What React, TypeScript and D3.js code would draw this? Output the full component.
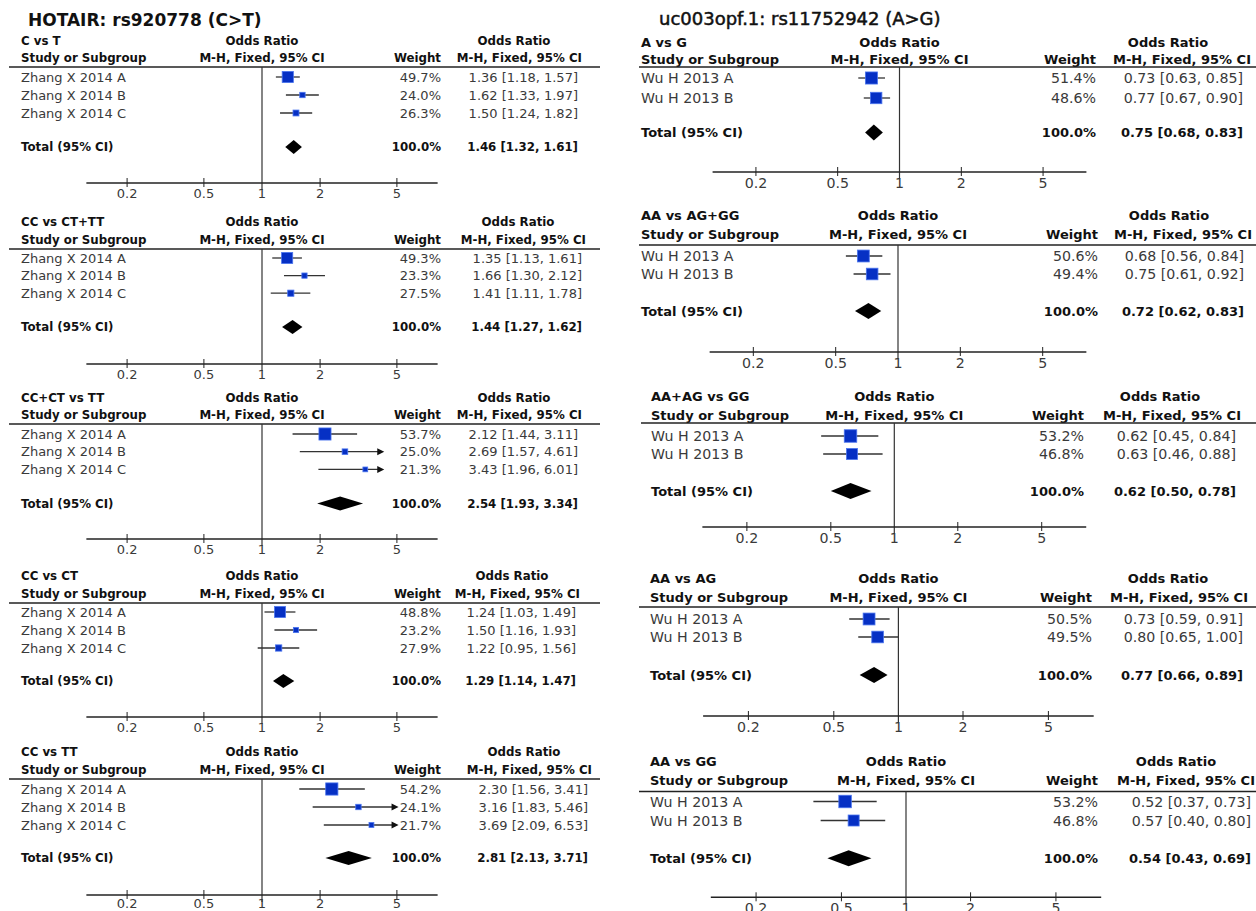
import React from "react";
import * as d3 from "d3";

// ---------- DATA ----------
const hotairTitle = "HOTAIR: rs920778 (C>T)";
const ucTitle = "uc003opf.1: rs11752942 (A>G)";

const hotairComparisons = ["C vs T", "CC vs CT+TT", "CC+CT vs TT", "CC vs CT", "CC vs TT"];
const hotairStudies = ["Zhang X 2014 A", "Zhang X 2014 B", "Zhang X 2014 C"];
const hotairWeights = [
  [49.7, 24.0, 26.3],
  [49.3, 23.3, 27.5],
  [53.7, 25.0, 21.3],
  [48.8, 23.2, 27.9],
  [54.2, 24.1, 21.7],
];
const hotairOR = [
  [1.36, 1.62, 1.5],
  [1.35, 1.66, 1.41],
  [2.12, 2.69, 3.43],
  [1.24, 1.5, 1.22],
  [2.3, 3.16, 3.69],
];
const hotairLower = [
  [1.18, 1.33, 1.24],
  [1.13, 1.3, 1.11],
  [1.44, 1.57, 1.96],
  [1.03, 1.16, 0.95],
  [1.56, 1.83, 2.09],
];
const hotairUpper = [
  [1.57, 1.97, 1.82],
  [1.61, 2.12, 1.78],
  [3.11, 4.61, 6.01],
  [1.49, 1.93, 1.56],
  [3.41, 5.46, 6.53],
];
// [OR, lower, upper]
const hotairTotal = [
  [1.46, 1.32, 1.61],
  [1.44, 1.27, 1.62],
  [2.54, 1.93, 3.34],
  [1.29, 1.14, 1.47],
  [2.81, 2.13, 3.71],
];

const ucComparisons = ["A vs G", "AA vs AG+GG", "AA+AG vs GG", "AA vs AG", "AA vs GG"];
const ucStudies = ["Wu H 2013 A", "Wu H 2013 B"];
const ucWeights = [
  [51.4, 48.6],
  [50.6, 49.4],
  [53.2, 46.8],
  [50.5, 49.5],
  [53.2, 46.8],
];
const ucOR = [
  [0.73, 0.77],
  [0.68, 0.75],
  [0.62, 0.63],
  [0.73, 0.8],
  [0.52, 0.57],
];
const ucLower = [
  [0.63, 0.67],
  [0.56, 0.61],
  [0.45, 0.46],
  [0.59, 0.65],
  [0.37, 0.4],
];
const ucUpper = [
  [0.85, 0.9],
  [0.84, 0.92],
  [0.84, 0.88],
  [0.91, 1.0],
  [0.73, 0.8],
];
const ucTotal = [
  [0.75, 0.68, 0.83],
  [0.72, 0.62, 0.83],
  [0.62, 0.5, 0.78],
  [0.77, 0.66, 0.89],
  [0.54, 0.43, 0.69],
];

const axisTicks = [0.2, 0.5, 1, 2, 5];
const axisTickLabels = ["0.2", "0.5", "1", "2", "5"];
const totalLabel = "Total (95% CI)";
const totalWeight = "100.0%";

// ---------- LAYOUT ----------
type Layout = {
  line0: number; line1: number; label: number; center: number; dec: number;
  weight: number; ci: number; ciHead: number; orHead: number; clip: number;
  y: number[]; // h1, h2, hline, row0, step, total, axis, tickLabelOffset
  fb: number; fr: number; dia: number; boxK: number;
};

const leftY = [
  [41, 58, 67, 77, 18, 147, 183, 10.5],
  [222, 240, 249, 258, 17.6, 327, 364, 10.5],
  [398, 415, 424, 434, 17.7, 503.5, 539, 10.5],
  [576, 594, 603, 612, 18, 681, 717, 10.5],
  [752, 770, 779, 789, 18, 858, 895, 8.5],
];
const leftCi = [578, 582, 578, 576, 588];
const leftClip = [5.1, 5.1, 4.3, 5.1, 5.1];

const leftLayouts: Layout[] = leftY.map((y, i) => ({
  line0: 9, line1: 600, label: 21, center: 262, dec: 193, weight: 441,
  ci: leftCi[i], ciHead: leftCi[i] + 4, orHead: leftCi[i] - 64, clip: leftClip[i],
  y, fb: 11.8, fr: 13, dia: 14, boxK: 0.225,
}));

const rightY = [
  [42, 59, 67, 78, 20, 132.5, 172, 11],
  [215, 234, 245, 256, 18, 311, 352, 11],
  [396, 415, 423, 436, 18, 491, 527, 11],
  [578, 597, 607, 619, 18, 675, 716, 11],
  [761.5, 780.5, 791.5, 801.5, 19, 858.3, 897.3, 11],
];
const rightX = [
  { line0: 639, label: 641, center: 899.5, dec: 205.4, weight: 1096, ci: 1243, ciHead: 1251, orHead: 1168 },
  { line0: 639, label: 641, center: 898, dec: 207, weight: 1098, ci: 1244, ciHead: 1252, orHead: 1169 },
  { line0: 641, label: 651, center: 894.3, dec: 210.9, weight: 1084, ci: 1236, ciHead: 1241, orHead: 1160 },
  { line0: 639, label: 650, center: 898.4, dec: 214.6, weight: 1092, ci: 1243, ciHead: 1248, orHead: 1168 },
  { line0: 639, label: 650, center: 906, dec: 214.5, weight: 1098, ci: 1251, ciHead: 1255, orHead: 1176 },
];
const rightLayouts: Layout[] = rightY.map((y, i) => ({
  ...rightX[i], line1: 1256, clip: 5.1, y, fb: 13, fr: 14.2, dia: 16, boxK: 0.235,
}));

const FONT = "DejaVu Sans";
const BOLD_COLOR = "#111";
const REG_COLOR = "#3a3a3a";
const BOX_FILL = "#0630c4";
const BOX_STROKE = "#4a74ee";
const LINE_COLOR = "#333";

const fmt = (v: number) => v.toFixed(2);
const ciText = (o: number, l: number, u: number) => `${fmt(o)} [${fmt(l)}, ${fmt(u)}]`;

type PanelProps = {
  L: Layout; comparison: string; studies: string[]; weights: number[];
  or: number[]; lo: number[]; hi: number[]; total: number[];
};

function Panel({ L, comparison, studies, weights, or, lo, hi, total }: PanelProps) {
  const span = 0.91;
  const x = d3
    .scaleLog()
    .domain([Math.pow(10, -span), Math.pow(10, span)])
    .range([L.center - span * L.dec, L.center + span * L.dec]);
  const [h1, h2, hl, row0, step, ty, ay, tlo] = L.y;
  const rowY = (i: number) => row0 + i * step;
  const bold = { fontFamily: FONT, fontWeight: 700, fontSize: L.fb, fill: BOLD_COLOR };
  const reg = { fontFamily: FONT, fontWeight: 400, fontSize: L.fr, fill: REG_COLOR };
  const [tOr, tLo, tHi] = total;
  const dh = L.dia / 2;
  return (
    <g>
      {/* headers */}
      <text x={L.label} y={h1} dominantBaseline="central" {...bold}>{comparison}</text>
      <text x={L.center} y={h1} dominantBaseline="central" textAnchor="middle" {...bold}>Odds Ratio</text>
      <text x={L.orHead} y={h1} dominantBaseline="central" textAnchor="middle" {...bold}>Odds Ratio</text>
      <text x={L.label} y={h2} dominantBaseline="central" {...bold}>Study or Subgroup</text>
      <text x={L.center} y={h2} dominantBaseline="central" textAnchor="middle" {...bold}>M-H, Fixed, 95% CI</text>
      <text x={L.weight} y={h2} dominantBaseline="central" textAnchor="end" {...bold}>Weight</text>
      <text x={L.ciHead} y={h2} dominantBaseline="central" textAnchor="end" {...bold}>M-H, Fixed, 95% CI</text>
      <line x1={L.line0} x2={L.line1} y1={hl} y2={hl} stroke="#222" strokeWidth={1.5} />
      {/* null line */}
      <line x1={x(1)} x2={x(1)} y1={hl} y2={ay + 7} stroke={LINE_COLOR} strokeWidth={1.2} />
      {/* studies */}
      {studies.map((s, i) => {
        const y = rowY(i);
        const upper = Math.min(hi[i], L.clip);
        const arrow = hi[i] > L.clip;
        const bs = weights[i] * L.boxK;
        const tip = x(upper);
        return (
          <g key={s}>
            <text x={L.label} y={y} dominantBaseline="central" {...reg}>{s}</text>
            <line x1={x(lo[i])} x2={arrow ? tip - 4 : tip} y1={y} y2={y} stroke={LINE_COLOR} strokeWidth={1.3} />
            {arrow && (
              <polygon points={`${tip},${y} ${tip - 7},${y - 3.5} ${tip - 7},${y + 3.5}`} fill="#111" />
            )}
            <rect
              x={x(or[i]) - bs / 2}
              y={y - bs / 2}
              width={bs}
              height={bs}
              fill={BOX_FILL}
              stroke={BOX_STROKE}
              strokeWidth={0.8}
            />
            <text x={L.weight} y={y} dominantBaseline="central" textAnchor="end" {...reg}>
              {weights[i].toFixed(1) + "%"}
            </text>
            <text x={L.ci} y={y} dominantBaseline="central" textAnchor="end" {...reg}>
              {ciText(or[i], lo[i], hi[i])}
            </text>
          </g>
        );
      })}
      {/* total */}
      <text x={L.label} y={ty} dominantBaseline="central" {...bold}>{totalLabel}</text>
      <polygon
        points={`${x(tLo)},${ty} ${x(tOr)},${ty - dh} ${x(tHi)},${ty} ${x(tOr)},${ty + dh}`}
        fill="#000"
      />
      <text x={L.weight} y={ty} dominantBaseline="central" textAnchor="end" {...bold}>{totalWeight}</text>
      <text x={L.ci} y={ty} dominantBaseline="central" textAnchor="end" {...bold}>{ciText(tOr, tLo, tHi)}</text>
      {/* axis */}
      <line x1={x.range()[0]} x2={x.range()[1]} y1={ay} y2={ay} stroke="#222" strokeWidth={1.4} />
      {axisTicks.map((t, i) => (
        <g key={t}>
          {t !== 1 && <line x1={x(t)} x2={x(t)} y1={ay - 5} y2={ay + 4} stroke="#222" strokeWidth={1} />}
          <text x={x(t)} y={ay + tlo} dominantBaseline="central" textAnchor="middle" {...reg}>
            {axisTickLabels[i]}
          </text>
        </g>
      ))}
    </g>
  );
}

export default function App() {
  return (
    <svg
      width={1256}
      height={911}
      style={{ position: "absolute", left: 0, top: 0, display: "block", background: "#fff" }}
    >
      <rect width={1256} height={911} fill="#fff" />
      <text x={28} y={20} dominantBaseline="central" fontFamily={FONT} fontWeight={700} fontSize={17} fill="#111">
        {hotairTitle}
      </text>
      <text
        x={659}
        y={18}
        dominantBaseline="central"
        fontFamily={FONT}
        fontWeight={400}
        fontSize={18}
        fill="#111"
        stroke="#111"
        strokeWidth={0.5}
      >
        {ucTitle}
      </text>
      {hotairComparisons.map((c, i) => (
        <Panel
          key={c}
          L={leftLayouts[i]}
          comparison={c}
          studies={hotairStudies}
          weights={hotairWeights[i]}
          or={hotairOR[i]}
          lo={hotairLower[i]}
          hi={hotairUpper[i]}
          total={hotairTotal[i]}
        />
      ))}
      {ucComparisons.map((c, i) => (
        <Panel
          key={c}
          L={rightLayouts[i]}
          comparison={c}
          studies={ucStudies}
          weights={ucWeights[i]}
          or={ucOR[i]}
          lo={ucLower[i]}
          hi={ucUpper[i]}
          total={ucTotal[i]}
        />
      ))}
    </svg>
  );
}
